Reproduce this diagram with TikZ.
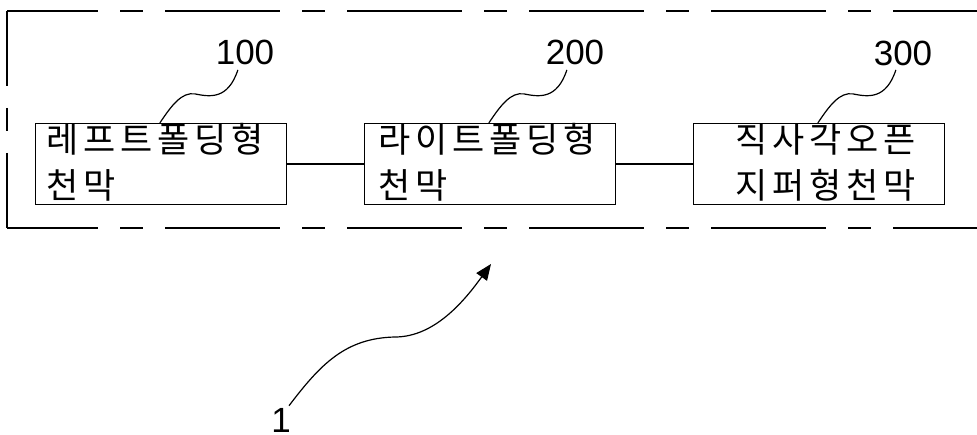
\documentclass[tikz,border=0pt]{standalone}
\usepackage{fontspec}
\setmainfont{Liberation Sans}
\newfontfamily\kr{Noto Sans CJK KR}
\usetikzlibrary{arrows.meta,calc}
\def\pitch{37pt}
\def\spc#1{\ifx#1\relax\else\makebox[\pitch][c]{#1}\expandafter\spc\fi}
\tikzset{
  box/.style={draw, line width=1.2pt, minimum width=251pt, minimum height=81pt, inner sep=0pt},
  krtext/.style={inner sep=0pt, font=\kr\fontsize{35}{46}\selectfont},
  numlabel/.style={inner sep=0pt, font=\fontsize{35}{40}\selectfont},
  thinline/.style={line width=1.2pt},
  frameline/.style={line width=1.3pt, dash pattern=on 115pt off 22pt on 23pt off 22pt}
}
\begin{document}
\begin{tikzpicture}[x=1pt,y=-1pt]
\useasboundingbox[fill=white] (0,0) rectangle (977,435);
% dashed frame
\draw[frameline, dash phase=24pt] (7,11) -- (977,11);
\draw[frameline, dash phase=24pt] (7,228) -- (977,228);
\draw[frameline, dash phase=40pt] (7,11) -- (7,228);
% boxes
\node[box] (b1) at (161,164) {};
\node[box] (b2) at (490,164) {};
\node[box] (b3) at (819,164) {};
\draw[thinline] (b1.east) -- (b2.west);
\draw[thinline] (b2.east) -- (b3.west);
% texts
\node[krtext, anchor=base west] (t1a) at (44,153) {\spc 레프트폴딩형\relax};
\node[krtext, anchor=base west] (t1b) at (44,199) {\spc 천막\relax};
\node[krtext, anchor=base west] (t2a) at (376,153) {\spc 라이트폴딩형\relax};
\node[krtext, anchor=base west] (t2b) at (376,199) {\spc 천막\relax};
\node[krtext, anchor=base] (t3a) at (826,153) {\spc 직사각오픈\relax};
\node[krtext, anchor=base] (t3b) at (826,199) {\spc 지퍼형천막\relax};
% number labels
\node[numlabel, anchor=base] (l1) at (245,65) {100};
\node[numlabel, anchor=base] (l2) at (575,65) {200};
\node[numlabel, anchor=base] (l3) at (903,66) {300};
% leaders
\foreach \i in {1,2,3}{
  \path (b\i.north west) ++(125,0) coordinate (s\i);
  \draw[thinline] (s\i) .. controls ($(s\i)+(12,-18)$) and ($(s\i)+(22,-31)$) .. ($(s\i)+(35,-29)$)
     .. controls ($(s\i)+(50,-26)$) and ($(s\i)+(68,-23)$) .. ($(s\i)+(78,-53)$);
}
% reference 1
\node[numlabel, anchor=base] (n1) at (281,432) {1};
\coordinate (tip) at (491,264);
\draw[thinline, -{Triangle[length=16pt,width=13pt]}] ($(n1.north)+(8,-2)$)
   .. controls (320,365) and (345,338) .. (395,337)
   .. controls (435,337) and (465,300) .. (tip);
\end{tikzpicture}
\end{document}
